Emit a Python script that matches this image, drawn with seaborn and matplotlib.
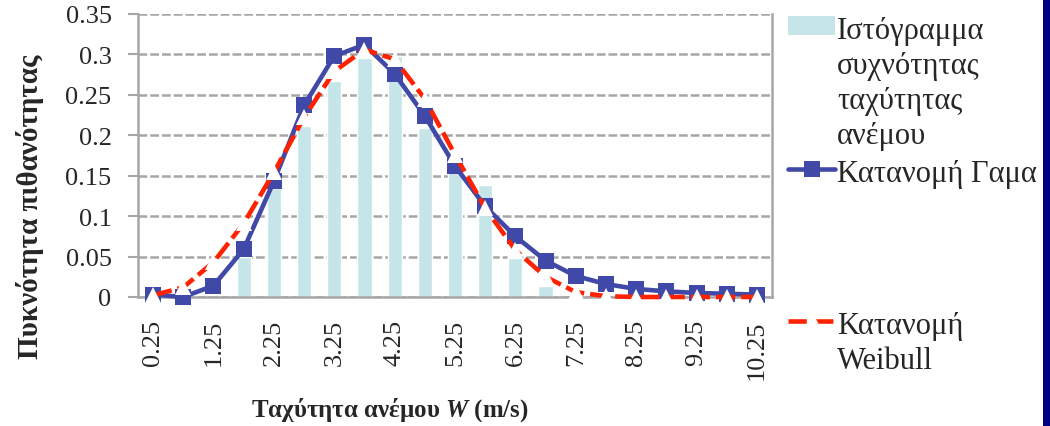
import matplotlib
matplotlib.use("Agg")
import matplotlib.pyplot as plt
import seaborn as sns
from matplotlib.patches import Patch
from matplotlib.lines import Line2D
from matplotlib.ticker import FuncFormatter
from matplotlib.offsetbox import HPacker

# Wind speed bin centres (m/s)
speed = ["0.25", "0.75", "1.25", "1.75", "2.25", "2.75", "3.25", "3.75",
         "4.25", "4.75", "5.25", "5.75", "6.25", "6.75", "7.25", "7.75",
         "8.25", "8.75", "9.25", "9.75", "10.25"]

# Observed frequency histogram
hist_freq = [0.0, 0.0, 0.0, 0.050, 0.135, 0.211, 0.267, 0.295, 0.298, 0.209,
             0.156, 0.139, 0.048, 0.014, 0.0, 0.0, 0.0, 0.0, 0.0, 0.0, 0.0]

# Fitted Gamma distribution
gamma_pdf = [0.003, 0.0, 0.014, 0.059, 0.143, 0.237, 0.298, 0.312, 0.276, 0.224,
             0.162, 0.112, 0.075, 0.045, 0.026, 0.016, 0.010, 0.007, 0.005,
             0.004, 0.003]

# Fitted Weibull distribution
weibull_pdf = [0.002, 0.012, 0.043, 0.091, 0.154, 0.222, 0.279, 0.306, 0.294,
               0.245, 0.176, 0.110, 0.058, 0.025, 0.006, 0.001, 0.0, 0.0, 0.0,
               0.0, 0.0]

y_ticks = [0.0, 0.05, 0.10, 0.15, 0.20, 0.25, 0.30, 0.35]

label_hist = "Ιστόγραμμα\nσυχνότητας\nταχύτητας\nανέμου"
label_gamma = "Κατανομή Γαμα"
label_weibull = "Κατανομή\nWeibull"
x_title = "Ταχύτητα ανέμου $W$ (m/s)"
y_title = "Πυκνότητα πιθανότητας"

BAR_C = "#C6E5E8"
GAMMA_C = "#4048A8"
WEIB_C = "#FF2200"
GRID_C = "#A6A6A6"
EDGE_C = "#000080"
LW = 3.3

sns.set_style("white")
plt.rcParams["font.family"] = ["Liberation Serif", "DejaVu Serif"]
plt.rcParams["mathtext.fontset"] = "custom"
plt.rcParams["mathtext.it"] = "Liberation Serif:italic:bold"
plt.rcParams["mathtext.rm"] = "Liberation Serif:bold"

fig = plt.figure(figsize=(10.5, 4.27), dpi=100)
ax = fig.add_axes([138 / 1050, 1 - 298 / 427, 634 / 1050, 283 / 427])

sns.barplot(x=speed, y=hist_freq, color=BAR_C, saturation=1, width=0.47,
            ax=ax, zorder=2)
sns.pointplot(x=speed, y=gamma_pdf, color=GAMMA_C, markers="s",
              linestyles="-", ax=ax, linewidth=LW, markersize=11.5,
              markeredgewidth=0, clip_on=False, zorder=3)
sns.pointplot(x=speed, y=weibull_pdf, color=WEIB_C, markers="^",
              linestyles="--", ax=ax, linewidth=LW, markersize=11,
              markerfacecolor="white", markeredgecolor="white",
              markeredgewidth=0, dashes=(4.2, 1.3), clip_on=False, zorder=4)

ax.set_xlim(-0.5, len(speed) - 0.5)
ax.set_ylim(0, 0.35)
ax.set_yticks(y_ticks)
ax.yaxis.set_major_formatter(FuncFormatter(lambda v, _: f"{v:g}"))
ax.set_xticks(range(0, len(speed), 2))
ax.set_xticklabels(speed[::2], rotation=90)
ax.tick_params(axis="x", length=0, pad=16, labelsize=19)
ax.tick_params(axis="y", length=7, width=1.5, color=GRID_C, pad=12,
               labelsize=19, left=True)
ax.set_xlabel("")
ax.set_ylabel("")

ax.yaxis.grid(True, linestyle=(0, (3.5, 1.2)), color=GRID_C, linewidth=1.8,
              zorder=0)
ax.set_axisbelow(True)
for side in ("left", "bottom", "right"):
    ax.spines[side].set_color(GRID_C)
    ax.spines[side].set_linewidth(1.8)
    ax.spines[side].set_visible(True)
ax.spines["top"].set_visible(False)

fig.text(30 / 1050, 1 - 207 / 427, y_title, rotation=90, ha="center",
         va="center", fontsize=21, fontweight="bold")
fig.text(390 / 1050, 1 - 410 / 427, x_title, ha="center", va="center",
         fontsize=18, fontweight="bold")

h_hist = Patch(facecolor=BAR_C, edgecolor="none")
h_gamma = Line2D([], [], color=GAMMA_C, lw=LW, marker="s", markersize=12,
                 markeredgewidth=0)
h_weib = Line2D([], [], color=WEIB_C, lw=LW, linestyle="--", dashes=(4.0, 1.8),
                marker="^", markersize=11, markerfacecolor="white",
                markeredgecolor="white")


def top_align(legend):
    # put each legend handle level with the first line of its label
    for packer in legend.findobj(HPacker):
        if packer is not legend._legend_handle_box:
            packer.align = "top"
    for txt in legend.get_texts():
        txt.set_linespacing(1.27)


leg_kw = dict(loc="upper left", frameon=False, fontsize=22, handlelength=1.55,
              handleheight=0.6, handletextpad=0.05, borderpad=0,
              borderaxespad=0)
leg1 = fig.legend([h_hist, h_gamma], [label_hist, label_gamma],
                  bbox_to_anchor=(788 / 1050, 1 - 17 / 427), labelspacing=0.3,
                  **leg_kw)
leg2 = fig.legend([h_weib], [label_weibull],
                  bbox_to_anchor=(788 / 1050, 1 - 312 / 427), **leg_kw)
top_align(leg1)
top_align(leg2)

# navy frame edge along the right side of the figure
edge_ax = fig.add_axes([1043 / 1050, 0, 7 / 1050, 1])
edge_ax.set_facecolor(EDGE_C)
edge_ax.set_xticks([])
edge_ax.set_yticks([])
for sp in edge_ax.spines.values():
    sp.set_visible(False)

fig.savefig("out.png", dpi=100)
